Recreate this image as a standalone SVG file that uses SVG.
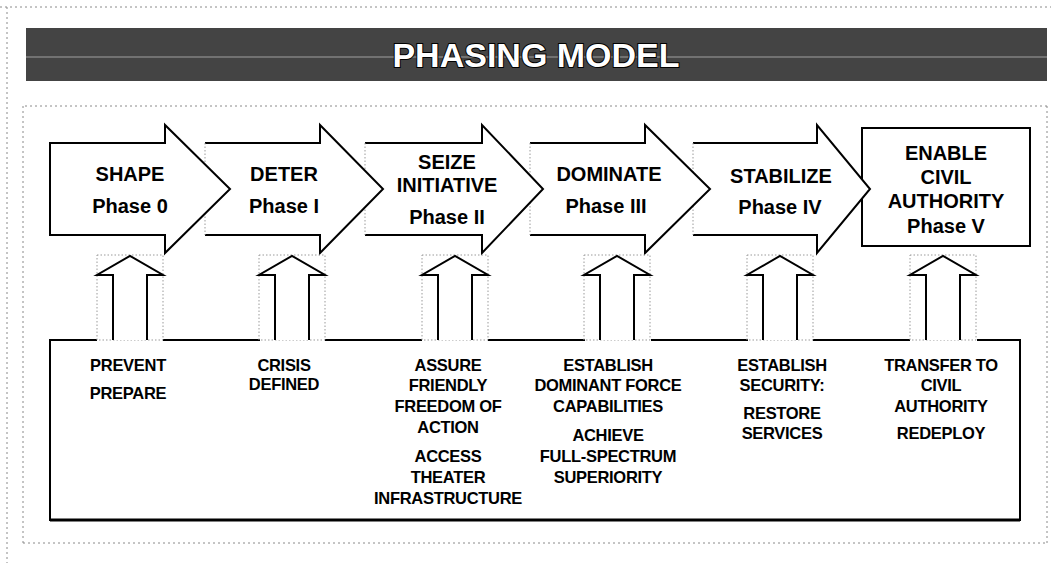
<svg xmlns="http://www.w3.org/2000/svg" width="1051" height="563" viewBox="0 0 1051 563">
  <style>
    .frame { fill: none; stroke: #8a8a8a; stroke-width: 1; stroke-dasharray: 2 3; }
    .ghost { fill: none; stroke: #9a9a9a; stroke-width: 1; stroke-dasharray: 1.5 2; }
    .fill { fill: #ffffff; stroke: none; }
    .edge { fill: none; stroke: #000000; stroke-width: 2; stroke-linejoin: miter; }
    .phase { font-family: "Liberation Sans", Arial, sans-serif; font-weight: bold; font-size: 20px; fill: #000000; text-anchor: middle; }
    .task { font-family: "Liberation Sans", Arial, sans-serif; font-weight: bold; font-size: 16.5px; fill: #000000; text-anchor: middle; letter-spacing: -0.3px; }
    .title { font-family: "Liberation Sans", Arial, sans-serif; font-weight: bold; font-size: 34px; fill: #ffffff; stroke: #000000; stroke-width: 2; paint-order: stroke; text-anchor: middle; }
  </style>

  <rect width="1051" height="563" fill="#ffffff"/>

  <!-- page frame -->
  <g id="page-frame">
    <line class="frame" x1="0" y1="7" x2="1051" y2="7"/>
    <line class="frame" x1="7" y1="7" x2="7" y2="563"/>
    <line class="frame" x1="25" y1="106" x2="1047" y2="106"/>
    <line class="frame" x1="23" y1="543" x2="1047" y2="543"/>
    <line class="frame" x1="23" y1="106" x2="23" y2="543"/>
    <line class="frame" x1="1047" y1="106" x2="1047" y2="543"/>
  </g>

  <!-- title banner -->
  <g id="title">
    <rect x="26" y="28" width="1021" height="53" fill="#444444"/>
    <line x1="26" y1="57" x2="1047" y2="57" stroke="#727272" stroke-width="2"/>
    <text class="title" x="536" y="67">PHASING MODEL</text>
  </g>

  <!-- Phase V box (drawn first so the Phase IV arrow overlaps it) -->
  <g id="phase-5">
    <rect x="862" y="128" width="168" height="118" fill="#ffffff" stroke="#000000" stroke-width="2"/>
    <text class="phase" x="946" y="160">ENABLE</text>
    <text class="phase" x="946" y="184">CIVIL</text>
    <text class="phase" x="946" y="208">AUTHORITY</text>
    <text class="phase" x="946" y="233">Phase V</text>
  </g>

  <g id="phase-4">
    <path class="fill" d="M693,143 H817 V125 L870,189 L817,253 V235 H693 Z"/>
    <path class="edge" d="M693,143 H817 V125 L870,189 L817,253 V235 H693"/>
    <line class="ghost" x1="693" y1="143" x2="693" y2="235"/>
    <text class="phase" x="781" y="183">STABILIZE</text>
    <text class="phase" x="780" y="214">Phase IV</text>
  </g>

  <g id="phase-3">
    <path class="fill" d="M530,143 H645 V125 L710,189 L645,253 V235 H530 Z"/>
    <path class="edge" d="M530,143 H645 V125 L710,189 L645,253 V235 H530"/>
    <line class="ghost" x1="530" y1="143" x2="530" y2="235"/>
    <text class="phase" x="609" y="181">DOMINATE</text>
    <text class="phase" x="606" y="213">Phase III</text>
  </g>

  <g id="phase-2">
    <path class="fill" d="M365,143 H482 V125 L543,189 L482,253 V235 H365 Z"/>
    <path class="edge" d="M365,143 H482 V125 L543,189 L482,253 V235 H365"/>
    <line class="ghost" x1="365" y1="143" x2="365" y2="235"/>
    <text class="phase" x="447" y="169">SEIZE</text>
    <text class="phase" x="447" y="192">INITIATIVE</text>
    <text class="phase" x="447" y="224">Phase II</text>
  </g>

  <g id="phase-1">
    <path class="fill" d="M205,143 H320 V125 L383,189 L320,253 V235 H205 Z"/>
    <path class="edge" d="M205,143 H320 V125 L383,189 L320,253 V235 H205"/>
    <line class="ghost" x1="205" y1="143" x2="205" y2="235"/>
    <text class="phase" x="284" y="181">DETER</text>
    <text class="phase" x="284" y="213">Phase I</text>
  </g>

  <g id="phase-0">
    <path class="fill" d="M50,143 H165 V125 L230,189 L165,253 V235 H50 Z"/>
    <path class="edge" d="M50,143 H165 V125 L230,189 L165,253 V235 H50 Z"/>
    <text class="phase" x="130" y="181">SHAPE</text>
    <text class="phase" x="130" y="213">Phase 0</text>
  </g>

  <!-- task panel: top edge broken where each feed arrow rises out of it -->
  <g id="tasks">
    <path class="edge" d="M97,340 H50 V520 H1020 V340 H977"/>
    <path class="edge" d="M163,340 H260 M325,340 H422 M488,340 H585 M651,340 H748 M813,340 H910"/>
    <line x1="50" y1="520" x2="1020" y2="520" stroke="#000000" stroke-width="3"/>

    <g id="tasks-0">
      <text class="task" x="128" y="371">PREVENT</text>
      <text class="task" x="128" y="399">PREPARE</text>
    </g>
    <g id="tasks-1">
      <text class="task" x="284" y="371">CRISIS</text>
      <text class="task" x="284" y="390">DEFINED</text>
    </g>
    <g id="tasks-2">
      <text class="task" x="448" y="371">ASSURE</text>
      <text class="task" x="448" y="391">FRIENDLY</text>
      <text class="task" x="448" y="412">FREEDOM OF</text>
      <text class="task" x="448" y="433">ACTION</text>
      <text class="task" x="448" y="462">ACCESS</text>
      <text class="task" x="448" y="483">THEATER</text>
      <text class="task" x="448" y="504">INFRASTRUCTURE</text>
    </g>
    <g id="tasks-3">
      <text class="task" x="608" y="371">ESTABLISH</text>
      <text class="task" x="608" y="391">DOMINANT FORCE</text>
      <text class="task" x="608" y="412">CAPABILITIES</text>
      <text class="task" x="608" y="441">ACHIEVE</text>
      <text class="task" x="608" y="462">FULL-SPECTRUM</text>
      <text class="task" x="608" y="483">SUPERIORITY</text>
    </g>
    <g id="tasks-4">
      <text class="task" x="782" y="371">ESTABLISH</text>
      <text class="task" x="782" y="391">SECURITY:</text>
      <text class="task" x="782" y="419">RESTORE</text>
      <text class="task" x="782" y="439">SERVICES</text>
    </g>
    <g id="tasks-5">
      <text class="task" x="941" y="371">TRANSFER TO</text>
      <text class="task" x="941" y="391">CIVIL</text>
      <text class="task" x="941" y="412">AUTHORITY</text>
      <text class="task" x="941" y="439">REDEPLOY</text>
    </g>
  </g>

  <!-- feed arrows from the task panel up into each phase -->
  <defs>
    <path id="feed" d="M-17,340 V275 H-33 L0,256 L33,275 H17 V340"/>
    <rect id="feed-box" x="-33" y="255" width="66" height="85"/>
  </defs>
  <g id="connectors">
    <g transform="translate(130,0)"><use href="#feed-box" class="ghost"/><use href="#feed" class="fill"/><use href="#feed" class="edge"/></g>
    <g transform="translate(292,0)"><use href="#feed-box" class="ghost"/><use href="#feed" class="fill"/><use href="#feed" class="edge"/></g>
    <g transform="translate(455,0)"><use href="#feed-box" class="ghost"/><use href="#feed" class="fill"/><use href="#feed" class="edge"/></g>
    <g transform="translate(617,0)"><use href="#feed-box" class="ghost"/><use href="#feed" class="fill"/><use href="#feed" class="edge"/></g>
    <g transform="translate(780,0)"><use href="#feed-box" class="ghost"/><use href="#feed" class="fill"/><use href="#feed" class="edge"/></g>
    <g transform="translate(943,0)"><use href="#feed-box" class="ghost"/><use href="#feed" class="fill"/><use href="#feed" class="edge"/></g>
  </g>
</svg>
